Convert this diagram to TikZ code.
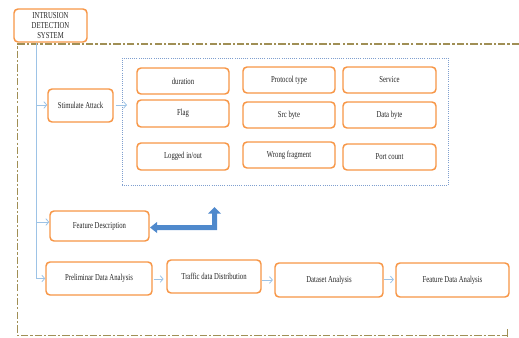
\documentclass[tikz,border=0pt]{standalone}
\usepackage{fontspec}
\setmainfont{Liberation Serif}[FakeStretch=0.74]
\usetikzlibrary{arrows.meta,fit}
\definecolor{boxor}{HTML}{F79646}
\definecolor{linkblue}{HTML}{9DC3E6}
\definecolor{fatblue}{HTML}{4F89CC}
\definecolor{frameol}{HTML}{A08F55}
\definecolor{dotblue}{HTML}{7F9FCF}
\definecolor{txt}{HTML}{262626}
\tikzset{
  box/.style={draw=boxor, line width=1.1pt, rounded corners=3pt, fill=white,
    inner sep=0pt, font=\fontsize{6.8}{7.6}\selectfont, text=txt, align=center},
  conn/.style={draw=linkblue, line width=0.6pt, -{Straight Barb[length=2.2pt,width=5pt]}},
  plainconn/.style={draw=linkblue, line width=0.6pt},
  frameline/.style={draw=frameol, line width=1.1pt, dash pattern=on 5.5pt off 1.6pt on 1.6pt off 1.6pt},
  dotbox/.style={draw=dotblue, line width=0.6pt, densely dotted, inner sep=0pt}
}
% name, x1, y1, x2, y2, text  (pixel coordinates)
\newcommand\pxbox[6]{%
  \node[box, minimum width={(#4-#2)*0.75pt}, minimum height={(#5-#3)*0.75pt}]
    (#1) at ({(#2+#4)/2},{(#3+#5)/2}) {#6};}
\begin{document}
\begin{tikzpicture}[x=0.75pt,y=-0.75pt]
\useasboundingbox (0,0) rectangle (519,337);
% frame
\draw[frameline] (519,44) -- (17.5,44) -- (17.5,335.5) -- (507,335.5);
\draw[draw=frameol, line width=0.6pt] (507,329) -- (507,337);
% dotted group
\node[dotbox, fit={(122,58) (448,185)}] (grp) {};
% title
\pxbox{title}{14}{9}{87}{42}{INTRUSION\\DETECTION\\SYSTEM}
% left column and pipeline
\pxbox{stim}{48}{89}{113}{122}{Stimulate Attack}
\pxbox{fdesc}{50}{211}{149}{241}{Feature Description}
\pxbox{prelim}{46}{262}{152}{295}{Preliminar Data Analysis}
\pxbox{traffic}{167}{260}{261}{293}{Traffic data Distribution}
\pxbox{dataset}{275}{263}{383}{297}{Dataset Analysis}
\pxbox{fda}{396}{263}{509}{297}{Feature Data Analysis}
% feature boxes
\pxbox{dur}{137}{68}{229}{94}{duration}
\pxbox{flag}{137}{100}{229}{127}{Flag}
\pxbox{logged}{137}{143}{229}{170}{Logged in/out}
\pxbox{proto}{243}{67}{335}{93}{Protocol type}
\pxbox{src}{243}{102}{335}{128}{Src byte}
\pxbox{wrong}{243}{142}{335}{168}{Wrong fragment}
\pxbox{serv}{343}{67}{436}{93}{Service}
\pxbox{datab}{343}{102}{436}{128}{Data byte}
\pxbox{port}{343}{144}{436}{170}{Port count}
% trunk connectors
\coordinate (b1) at (36,105);
\coordinate (b2) at (36,222);
\coordinate (b3) at (36,278.5);
\draw[plainconn] (title.south -| b1) -- (b3);
\draw[conn] (b1) -- (stim.west |- b1);
\draw[conn] (b2) -- (fdesc.west |- b2);
\draw[conn] (b3) -- (prelim.west |- b3);
\coordinate (g1) at (127,105);
\draw[conn] (stim.east |- g1) ++(2,0) -- (g1);
\draw[conn] (prelim.east |- 0,279) ++(1,0) -- ([xshift=-2]traffic.west |- 0,279);
\draw[conn] (traffic.east |- 0,280) -- ([xshift=-1]dataset.west |- 0,280);
\draw[conn] (dataset.east |- 0,279.5) -- ([xshift=-1]fda.west |- 0,279.5);
% fat arrow
\fill[fatblue] (150,227.5) -- (157,222) -- (157,225) -- (212,225) -- (212,213.5)
  -- (208,213.5) -- (214.5,207) -- (221,213.5) -- (217,213.5) -- (217,230)
  -- (157,230) -- (157,233) -- cycle;
\end{tikzpicture}
\end{document}
